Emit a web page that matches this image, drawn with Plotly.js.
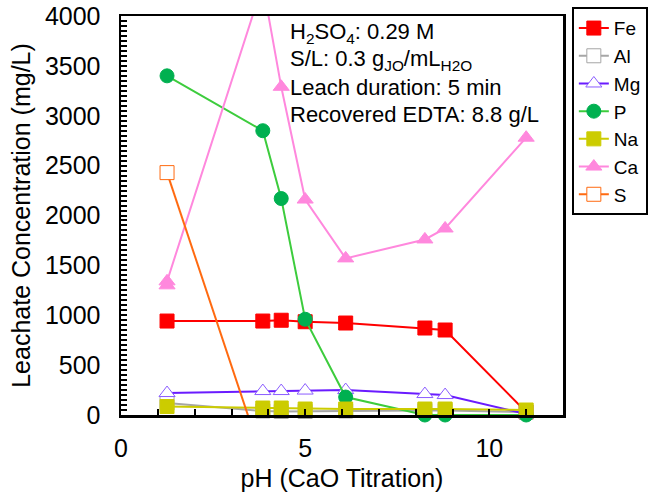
<!DOCTYPE html>
<html>
<head>
<meta charset="utf-8">
<script src="https://cdn.plot.ly/plotly-3.0.1.min.js"></script>
<style>html,body{margin:0;padding:0;background:#fff;overflow:hidden;width:650px;height:498px;}#chart{width:700px;height:498px;}</style>
</head>
<body>
<div id="chart"></div>
<script>
// pH values (CaO titration)
var pH = [1.25, 3.85, 4.35, 5.0, 6.1, 8.25, 8.8, 11.0];
var fe = [942, 942, 950, 935, 922, 872, 852, 30];
var al = [120, 40, 35, 35, 40, 45, 45, 30];
var mg = [220, 240, 240, 245, 250, 210, 200, 10];
var p  = [3400, 2850, 2170, 960, 180, 0, 0, 0];
var na = [85, 70, 70, 60, 60, 60, 60, 50];
var caX = [1.25, 1.25, 3.85, 4.35, 5.0, 6.1, 8.25, 8.8, 11.0];
var ca  = [1300, 1340, 4320, 3290, 2160, 1570, 1760, 1870, 2780];
var sX = [1.25, 3.85];
var s  = [2430, -450];
var noteLines = [
  'H<sub>2</sub>SO<sub>4</sub>: 0.29 M',
  'S/L: 0.3 g<sub>JO</sub>/mL<sub>H2O</sub>',
  'Leach duration: 5 min',
  'Recovered EDTA: 8.8 g/L'
];

var FONT = 'Liberation Sans, Arial, sans-serif';

function tr(name, x, y, lineColor, symbol, fill, mline, clip) {
  return {
    type: 'scatter', mode: 'lines+markers', name: name, x: x, y: y,
    line: {color: lineColor, width: 2},
    marker: {symbol: symbol, size: 14, color: fill, line: {color: mline, width: 1}},
    cliponaxis: clip
  };
}

var data = [
  tr('Fe', pH, fe, '#FF0000', 'square', '#FF0000', '#FF0000', false),
  tr('Al', pH, al, '#A6A6A6', 'square', '#FFFFFF', '#A6A6A6', false),
  tr('Mg', pH, mg, '#6A1BFF', 'triangle-up', '#FFFFFF', '#8A5CFF', false),
  tr('P', pH, p, '#3DCC3D', 'circle', '#00B050', '#00B050', false),
  tr('Na', pH, na, '#CCCC00', 'square', '#CCCC00', '#CCCC00', false),
  tr('Ca', caX, ca, '#FF88DD', 'triangle-up', '#FF88DD', '#FF88DD', true),
  tr('S', sX, s, '#FF6A10', 'square', '#FFFFFF', '#FF6A10', true)
];

var noteY = [0.957, 0.890, 0.820, 0.752];
var annotations = noteLines.map(function (t, i) {
  return {
    xref: 'paper', yref: 'paper', x: 0.378, y: noteY[i], xanchor: 'left', yanchor: 'middle',
    align: 'left', showarrow: false,
    font: {family: FONT, size: 22, color: '#000'}, text: t
  };
});

var layout = {
  width: 700, height: 498,
  margin: {l: 121, r: 137, t: 16, b: 83, autoexpand: false},
  paper_bgcolor: '#fff', plot_bgcolor: '#fff',
  font: {family: FONT, color: '#000', size: 22},
  showlegend: true,
  legend: {
    x: 1.02, y: 1.022, xanchor: 'left', yanchor: 'top',
    bordercolor: '#000', borderwidth: 2,
    font: {family: FONT, size: 19, color: '#000'},
    tracegroupgap: 0
  },
  xaxis: {
    range: [0, 12], dtick: 5, tick0: 0,
    showgrid: false, zeroline: false,
    showline: true, linecolor: '#000', linewidth: 2.5, mirror: true,
    ticks: 'inside', ticklen: 6, tickwidth: 2, tickcolor: '#000',
    minor: {dtick: 1, ticks: 'inside', ticklen: 6, tickwidth: 2, tickcolor: '#000'},
    tickfont: {family: FONT, size: 25},
    ticklabelstandoff: 9,
    title: {text: 'pH (CaO Titration)', font: {family: FONT, size: 25}, standoff: 9}
  },
  yaxis: {
    range: [0, 4000], dtick: 500, tick0: 0,
    showgrid: false, zeroline: false,
    showline: true, linecolor: '#000', linewidth: 2.5, mirror: true,
    ticks: 'inside', ticklen: 6, tickwidth: 2, tickcolor: '#000',
    minor: {dtick: 50, ticks: 'inside', ticklen: 6, tickwidth: 2, tickcolor: '#000'},
    tickfont: {family: FONT, size: 25},
    ticklabelstandoff: 13,
    title: {text: 'Leachate Concentration (mg/L)', font: {family: FONT, size: 25}, standoff: 7}
  },
  annotations: annotations
};

Plotly.newPlot('chart', data, layout, {displayModeBar: false, staticPlot: true});
</script>
</body>
</html>
